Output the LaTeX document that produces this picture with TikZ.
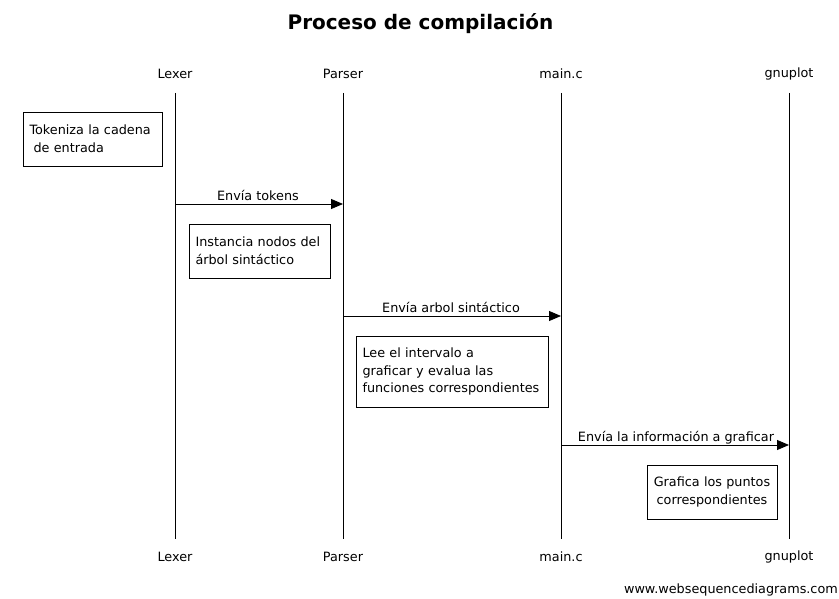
\documentclass[tikz,border=0pt]{standalone}
\usepackage{fontspec}
\setmainfont{DejaVu Sans}
\usetikzlibrary{arrows.meta}
\begin{document}
\begin{tikzpicture}[x=1pt,y=-1pt,
  every node/.style={font=\fontsize{12.8}{17.7}\selectfont, inner sep=0pt},
  actor/.style={anchor=center},
  life/.style={line width=0.8pt},
  msg/.style={line width=0.8pt,-{Triangle[length=12pt,width=10pt]}},
  msglabel/.style={anchor=base},
  notebox/.style={draw, line width=0.8pt, align=left, inner xsep=6.5pt},
]
\useasboundingbox (0,0) rectangle (839,599);
\node[font=\fontsize{20}{24}\selectfont\bfseries] (title) at (420.5,24) {Proceso de compilación};
% actors
\foreach \n/\x/\t in {lexer/175/Lexer, parser/343/Parser, mainc/561/main.c, gnuplot/789/gnuplot}{
  \node[actor] (\n-top) at (\x,74) {\t};
  \node[actor] (\n-bot) at (\x,557) {\t};
  \coordinate (\n-a) at (\x,93);
  \coordinate (\n-b) at (\x,539);
  \draw[life] (\n-a) -- (\n-b);
}
% notes
\node[notebox, minimum height=54pt, text width=126pt] (n1) at (92.5,139) {\mbox{Tokeniza la cadena}\\\mbox{\hspace*{0.32em}de entrada}};
\node[notebox, minimum height=54pt, text width=128pt] (n2) at (259.5,251) {\mbox{Instancia nodos del}\\\mbox{árbol sintáctico}};
\node[notebox, minimum height=71pt, text width=179pt] (n3) at (452,371.5) {\mbox{Lee el intervalo a}\\\mbox{graficar y evalua las}\\\mbox{funciones correspondientes}};
\node[notebox, minimum height=54pt, text width=117pt, align=center] (n4) at (712,492) {\mbox{Grafica los puntos}\\\mbox{correspondientes}};
% messages
\coordinate (m1s) at (175,204); \coordinate (m1e) at (343,204);
\coordinate (m2s) at (343,316); \coordinate (m2e) at (561,316);
\coordinate (m3s) at (561,445); \coordinate (m3e) at (789,445);
\draw[msg] (m1s) -- (m1e);
\draw[msg] (m2s) -- (m2e);
\draw[msg] (m3s) -- (m3e);
\node[msglabel] (l1) at (258,200.5) {Envía tokens};
\node[msglabel] (l2) at (451,312.5) {Envía arbol sintáctico};
\node[msglabel] (l3) at (676,441.5) {Envía la información a graficar};
\node[anchor=east] (foot) at (838,590) {www.websequencediagrams.com};
\end{tikzpicture}
\end{document}
